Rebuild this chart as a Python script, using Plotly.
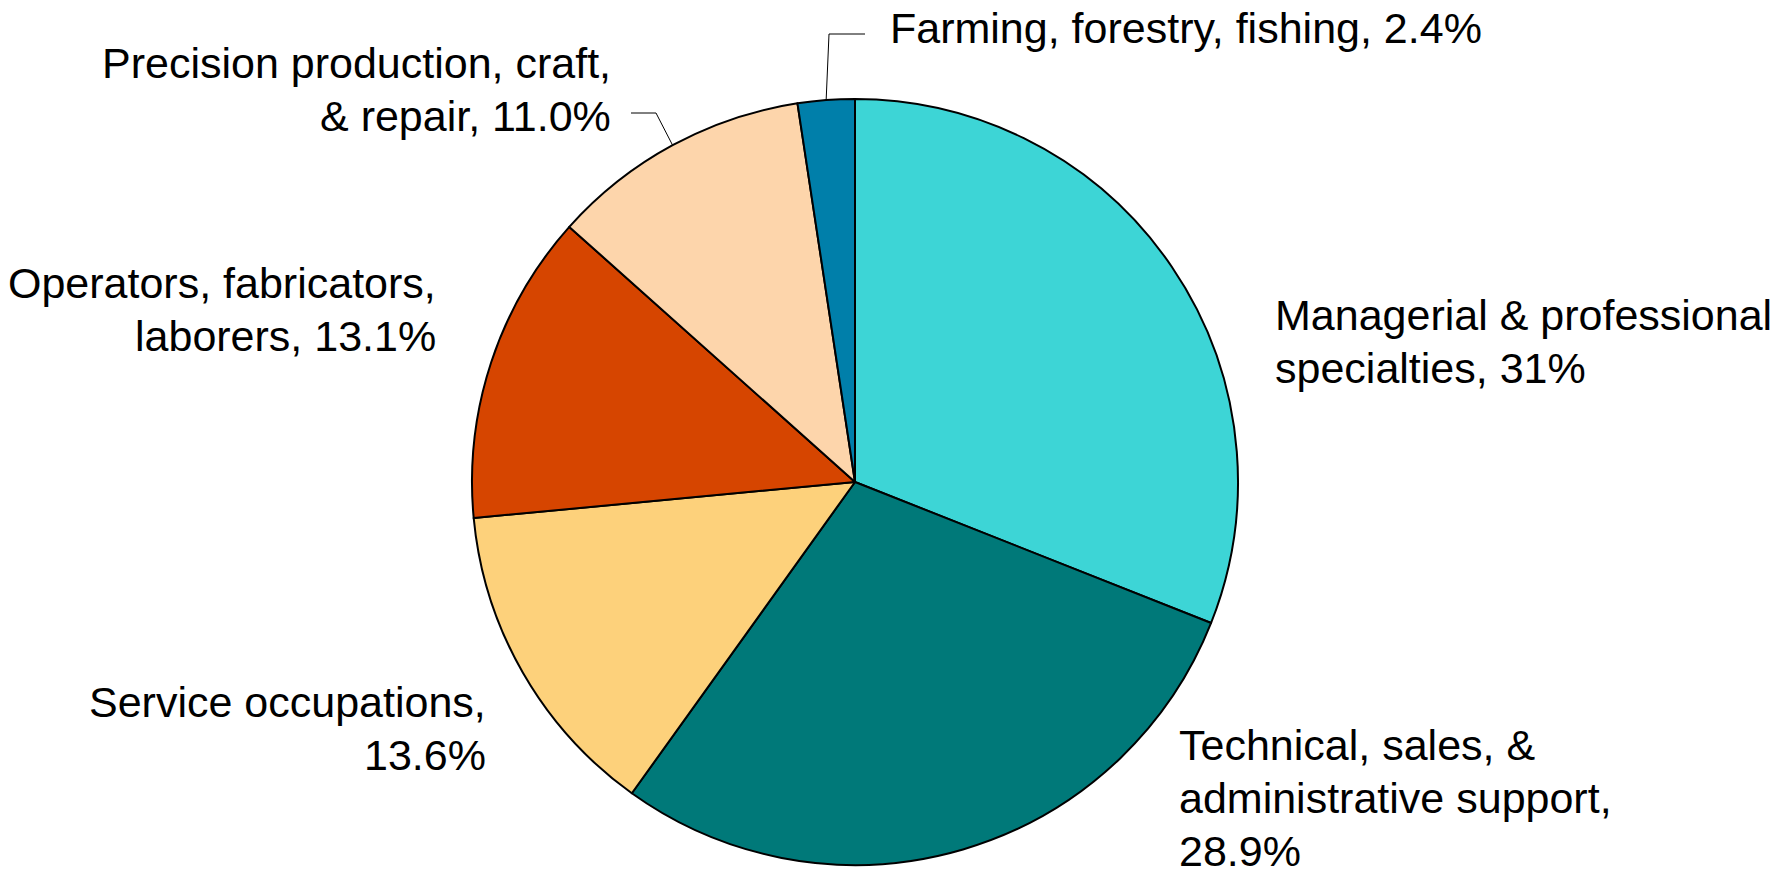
import numpy as np
import plotly.graph_objects as go

# ---- data ----
categories = [
    "Managerial & professional specialties",
    "Technical, sales, & administrative support",
    "Service occupations",
    "Operators, fabricators, laborers",
    "Precision production, craft, & repair",
    "Farming, forestry, fishing",
]
shares = [31.0, 28.9, 13.6, 13.1, 11.0, 2.4]
share_text = ["31%", "28.9%", "13.6%", "13.1%", "11.0%", "2.4%"]
label_lines = [
    ["Managerial & professional", "specialties, {v}"],
    ["Technical, sales, &", "administrative support,", "{v}"],
    ["Service occupations,", "{v}"],
    ["Operators, fabricators,", "laborers, {v}"],
    ["Precision production, craft,", "& repair, {v}"],
    ["Farming, forestry, fishing, {v}"],
]
colors = ["#3DD5D6", "#007979", "#FDD17B", "#D64500", "#FDD5AB", "#007FAA"]

# ---- layout ----
W, H = 1779, 869
OFF = 8  # page body margin
CX, CY, R = 855, 482, 383
FONT = dict(family="Liberation Sans, Arial, sans-serif", size=43, color="black")
LINE_H = 53

# label block centre (pixel) and alignment, plus optional leader elbows
label_pos = [
    dict(x=1273, y=341, xanchor="left"),
    dict(x=1177, y=798, xanchor="left"),
    dict(x=488, y=728, xanchor="right"),
    dict(x=438, y=309, xanchor="right"),
    dict(x=613, y=89, xanchor="right"),
    dict(x=888, y=28, xanchor="left"),
]
leaders = {
    4: [(656, 113), (631, 113)],
    5: [(829, 34), (865, 34)],
}

def px(x):
    return (x - OFF) / W

def py(y):
    return 1 - (y - OFF) / H

fig = go.Figure(
    go.Pie(
        labels=categories,
        values=shares,
        sort=False,
        direction="clockwise",
        rotation=0,
        marker=dict(colors=colors, line=dict(color="black", width=2)),
        textinfo="none",
        hoverinfo="label+percent",
        domain=dict(x=[px(CX - R), px(CX + R)], y=[py(CY + R), py(CY - R)]),
        showlegend=False,
    )
)

total = float(np.sum(shares))
cum = np.cumsum([0.0] + shares)
annotations = []
shapes = []
for i, (lines, v) in enumerate(zip(label_lines, share_text)):
    pos = label_pos[i]
    n = len(lines)
    for k, l in enumerate(lines):
        yc = pos["y"] + (k - (n - 1) / 2) * LINE_H
        annotations.append(
            dict(
                x=px(pos["x"]), y=py(yc), xref="paper", yref="paper",
                text=l.format(v=v), showarrow=False, xanchor=pos["xanchor"],
                yanchor="middle", align=pos["xanchor"], font=FONT,
            )
        )
    if i in leaders:
        mid = (cum[i] + shares[i] / 2) / total * 2 * np.pi
        sx = CX + R * np.sin(mid)
        sy = CY - R * np.cos(mid)
        pts = [(sx, sy)] + leaders[i]
        path = "M " + " L ".join(f"{px(a)},{py(b)}" for a, b in pts)
        shapes.append(
            dict(type="path", path=path, xref="paper", yref="paper",
                 line=dict(color="black", width=1))
        )

fig.update_layout(
    width=W, height=H,
    margin=dict(l=0, r=0, t=0, b=0),
    paper_bgcolor="white", plot_bgcolor="white",
    annotations=annotations, shapes=shapes,
)

fig.write_html("out.html")
